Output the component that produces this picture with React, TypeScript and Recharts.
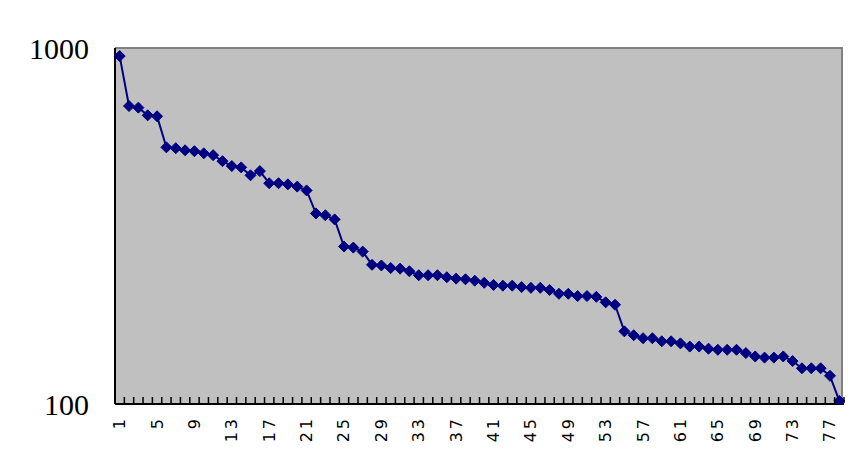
import React from "react";
import { LineChart, Line, XAxis, YAxis } from "recharts";

// (log scale, 100 - 1000)
const values = [
  949, 687, 680, 647, 643, 526, 523, 516, 513, 506,
  500, 481, 466, 462, 439, 451, 417, 417, 414, 408,
  398, 343, 339, 330, 277, 275, 268, 246, 245, 241,
  240, 236, 230, 230, 230, 227, 225, 224, 222, 219,
  216, 215, 215, 213, 212, 212, 209, 204, 204, 201,
  201, 200, 193, 190, 160, 156, 153, 153, 150, 150,
  148, 145, 145, 143, 142, 142, 142, 139, 136, 135,
  135, 136, 132, 126, 126, 126, 120, 102,
];
const categories = values.map((_, i) => String(i + 1));
const yTicks = [100, 1000];

const data = categories.map((name, i) => ({ name, value: values[i] }));

const W = 867;
const H = 463;
const M = { top: 48, right: 23, left: 0, bottom: 0 };
const Y_AXIS_W = 115;
const X_AXIS_H = 59;
const plotW = W - M.left - M.right - Y_AXIS_W;
const plotH = H - M.top - M.bottom - X_AXIS_H;
const band = plotW / categories.length;

const Diamond = (props: any) => {
  const { cx, cy } = props;
  if (cx == null || cy == null) return null;
  const r = 5.5;
  return (
    <polygon
      points={`${cx},${cy - r} ${cx + r},${cy} ${cx},${cy + r} ${cx - r},${cy}`}
      fill="#000080"
      stroke="#000080"
    />
  );
};

const CatTick = (props: any) => {
  const { x, y, payload } = props;
  const idx = payload.index;
  const bx = Number(x) + band / 2;
  const ty = Number(y);
  return (
    <g>
      <path d={`M${bx},${ty - 1}V${ty - 7}`} stroke="#000000" strokeWidth={1.5} fill="none" />
      {idx % 4 === 0 && (
        <text
          x={x}
          y={ty + 12}
          transform={`rotate(-90, ${x}, ${ty + 12})`}
          textAnchor="end"
          dominantBaseline="central"
          fontFamily="DejaVu Sans"
          fontSize={16}
          letterSpacing={3}
          fill="#000"
        >
          {payload.value}
        </text>
      )}
    </g>
  );
};

export default function App() {
  return (
    <div style={{ position: "absolute", left: 0, top: 0, width: W, height: H, background: "#fff" }}>
      {/* plot background with the grey top/right frame */}
      <div
        style={{
          position: "absolute",
          left: M.left + Y_AXIS_W,
          top: M.top - 1,
          width: plotW - 1,
          height: plotH,
          background: "#C0C0C0",
          borderTop: "2px solid #808080",
          borderRight: "2px solid #808080",
          boxSizing: "border-box",
        }}
      />
      <LineChart width={W} height={H} data={data} margin={M}>
        <XAxis
          dataKey="name"
          height={X_AXIS_H}
          interval={0}
          padding={{ left: band / 2, right: band / 2 }}
          tickSize={0}
          tickMargin={0}
          tickLine={false}
          tick={<CatTick />}
          axisLine={{ stroke: "#000", strokeWidth: 2 }}
        />
        <YAxis
          scale="log"
          domain={[100, 1000]}
          ticks={yTicks}
          allowDataOverflow
          width={Y_AXIS_W}
          tickSize={0}
          tickMargin={26}
          tickLine={false}
          axisLine={{ stroke: "#000", strokeWidth: 2 }}
          tick={{ fontFamily: "Liberation Serif", fontSize: 30, fill: "#000" }}
        />
        <Line
          dataKey="value"
          stroke="#000080"
          strokeWidth={2}
          dot={<Diamond />}
          activeDot={false}
          isAnimationActive={false}
        />
      </LineChart>
    </div>
  );
}
